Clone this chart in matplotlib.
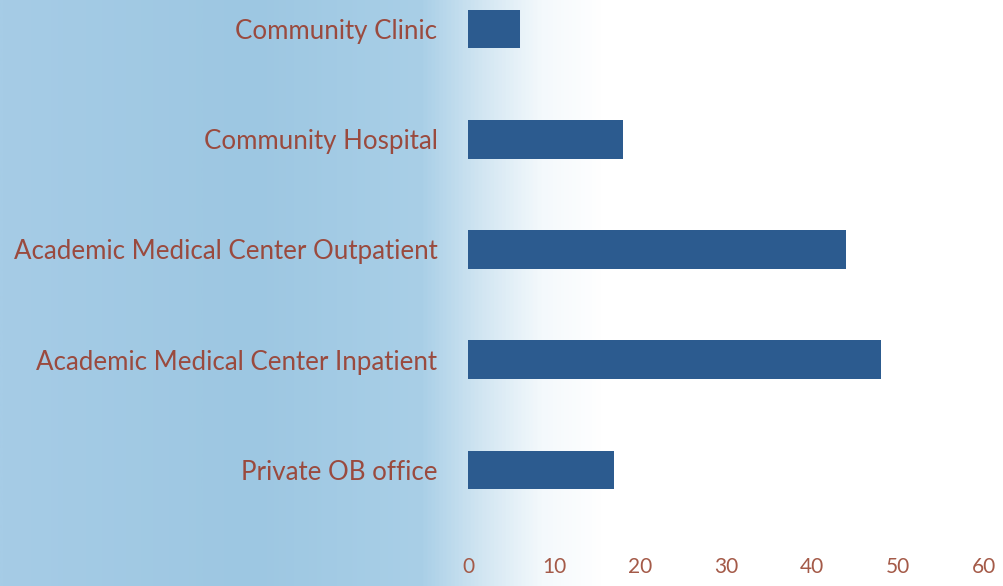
import numpy as np
import matplotlib
matplotlib.use("Agg")
import matplotlib.pyplot as plt
from matplotlib.colors import LinearSegmentedColormap

# data (bottom to top)
categories = ["Private OB office",
              "Academic Medical Center Inpatient",
              "Academic Medical Center Outpatient",
              "Community Hospital",
              "Community Clinic"]
values = [17, 48, 44, 18, 6]
xticks = [0, 10, 20, 30, 40, 50, 60]

text_color = "#9a4a3e"
bar_color = "#2c5b8f"

fig = plt.figure(figsize=(10.04, 5.86), dpi=100)

# background: blue on the left fading to white
bg = fig.add_axes([0, 0, 1, 1], zorder=0)
cmap = LinearSegmentedColormap.from_list(
    "bg", [(0.0, "#a6cce6"), (0.25, "#9dc7e2"), (0.42, "#a9cfe7"),
           (0.48, "#d2e6f2"), (0.54, "#f4f9fc"), (0.6, "#ffffff"), (1.0, "#ffffff")])
grad = np.linspace(0, 1, 512).reshape(1, -1)
bg.imshow(grad, aspect="auto", cmap=cmap, extent=[0, 1, 0, 1])
bg.axis("off")

ax = fig.add_axes([468 / 1004, 46 / 586, (984 - 468) / 1004, 540 / 586], zorder=1)
ax.patch.set_alpha(0)

y = np.arange(len(categories))
ax.barh(y, values, height=0.35, color=bar_color)

ax.set_xlim(0, 60)
ax.set_ylim(-0.635, 4.263)
ax.set_xticks(xticks)
ax.set_xticklabels([str(t) for t in xticks])
ax.set_yticks(y)
ax.set_yticklabels(categories)

for s in ax.spines.values():
    s.set_visible(False)
ax.tick_params(axis="both", length=0)
ax.tick_params(axis="y", pad=22, labelsize=18.6, labelcolor=text_color)
ax.tick_params(axis="x", pad=12, labelsize=15, labelcolor="#a45a48")
for lab in ax.get_xticklabels() + ax.get_yticklabels():
    lab.set_fontfamily("Lato")

fig.savefig("out.png", dpi=100)
